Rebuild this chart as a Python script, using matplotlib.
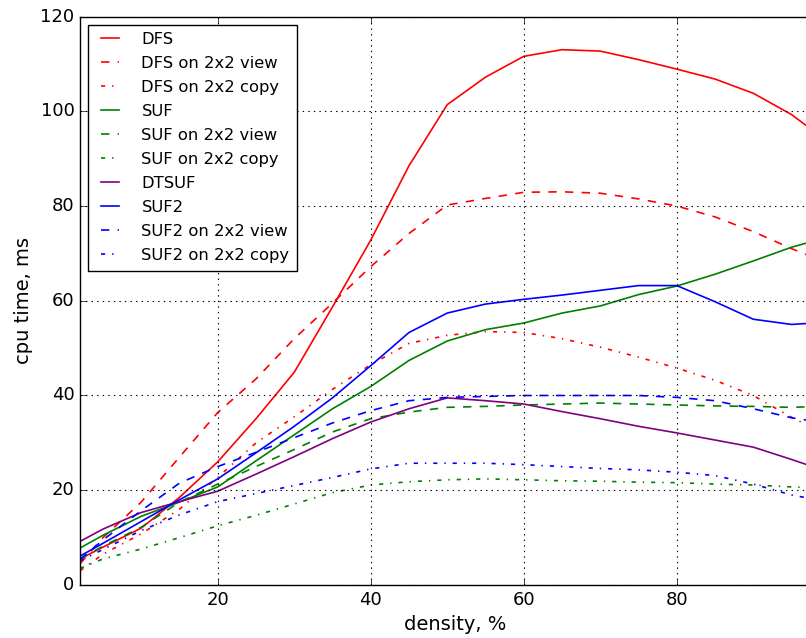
import matplotlib
matplotlib.use('Agg')
import matplotlib.pyplot as plt

# density, % (last point sits just past the cropped right edge)
density = [2, 5, 10, 15, 20, 25, 30, 35, 40, 45, 50, 55, 60, 65, 70, 75, 80, 85, 90, 95, 97]

dfs = [5.5, 8.0, 12.0, 18.5, 26.0, 35.1, 44.9, 58.7, 72.8, 88.5, 101.4, 107.2, 111.6, 113.0,
       112.7, 110.9, 108.9, 106.8, 103.8, 99.3, 96.9]
dfs_view = [4.5, 10.0, 17.5, 27.0, 36.4, 43.5, 52.0, 59.5, 67.2, 74.2, 80.2, 81.6, 82.9, 83.0,
            82.7, 81.5, 80.0, 77.7, 74.6, 71.0, 69.7]
dfs_copy = [3.0, 6.5, 10.8, 16.0, 22.7, 30.0, 35.5, 41.3, 46.5, 51.0, 52.7, 53.5, 53.3, 52.0,
            50.2, 48.1, 45.8, 43.2, 40.0, 35.4, 33.8]
suf = [7.8, 10.5, 14.5, 17.5, 20.7, 26.2, 31.7, 37.2, 41.9, 47.4, 51.5, 53.9, 55.3, 57.4,
       58.9, 61.3, 63.1, 65.6, 68.4, 71.3, 72.2]
suf_view = [5.5, 8.2, 12.2, 17.5, 21.3, 25.0, 28.6, 32.3, 35.1, 36.5, 37.5, 37.7, 38.0, 38.2,
            38.4, 38.2, 38.0, 37.8, 37.7, 37.5, 37.6]
suf_copy = [3.5, 5.5, 7.6, 10.0, 12.5, 14.7, 17.1, 19.5, 21.1, 21.8, 22.2, 22.4, 22.2, 22.0,
            21.9, 21.7, 21.6, 21.3, 21.1, 20.7, 20.6]
dtsuf = [9.2, 11.8, 15.3, 17.6, 19.8, 23.4, 27.1, 30.9, 34.4, 37.2, 39.5, 38.9, 38.2, 36.6,
         35.1, 33.5, 32.1, 30.6, 29.1, 26.5, 25.4]
suf2 = [6.1, 8.8, 13.4, 18.0, 22.4, 27.9, 33.5, 39.5, 46.3, 53.3, 57.4, 59.3, 60.3, 61.2,
        62.2, 63.2, 63.2, 59.8, 56.1, 55.0, 55.2]
suf2_view = [5.4, 9.5, 15.7, 21.5, 25.0, 28.0, 31.1, 34.2, 36.8, 38.9, 39.6, 39.8, 40.0, 40.0,
             40.0, 40.0, 39.6, 38.9, 37.2, 35.3, 34.8]
suf2_copy = [5.1, 7.5, 11.5, 14.8, 17.6, 19.3, 21.0, 22.7, 24.5, 25.7, 25.7, 25.7, 25.4, 25.0,
             24.6, 24.3, 23.8, 23.1, 21.3, 19.0, 18.4]

series = [
    ('DFS', dfs, 'red', '-'),
    ('DFS on 2x2 view', dfs_view, 'red', '--'),
    ('DFS on 2x2 copy', dfs_copy, 'red', '-.'),
    ('SUF', suf, 'green', '-'),
    ('SUF on 2x2 view', suf_view, 'green', '--'),
    ('SUF on 2x2 copy', suf_copy, 'green', '-.'),
    ('DTSUF', dtsuf, 'purple', '-'),
    ('SUF2', suf2, 'blue', '-'),
    ('SUF2 on 2x2 view', suf2_view, 'blue', '--'),
    ('SUF2 on 2x2 copy', suf2_copy, 'blue', '-.'),
]

plt.style.use('classic')
plt.rcParams['font.family'] = ['DejaVu Sans']

fig = plt.figure(figsize=(8.06, 6.38), dpi=100, facecolor='white')
# axes run a little past the right edge of the picture, as in the cropped original
ax = fig.add_axes([0.0993, 0.0831, 0.9302, 0.891])
ax.set_facecolor('white')

for label, values, color, style in series:
    ax.plot(density, values, color=color, linestyle=style, linewidth=1.2, label=label)

ax.set_xlim(2, 100)
ax.set_ylim(0, 120)
ax.set_xticks([20, 40, 60, 80])
ax.set_yticks([0, 20, 40, 60, 80, 100, 120])
ax.tick_params(labelsize=13)
ax.grid(True, linestyle=':', color='black', linewidth=0.8)

ax.set_xlabel('density, %', fontsize=14)
ax.set_ylabel('cpu time, ms', fontsize=14)

ax.legend(loc='upper left', fontsize=11.8, handlelength=1.7, handletextpad=1.1,
          labelspacing=0.55, borderpad=0.45, frameon=True, fancybox=False,
          borderaxespad=0.5)

fig.savefig('out.png', dpi=100, facecolor='white')
